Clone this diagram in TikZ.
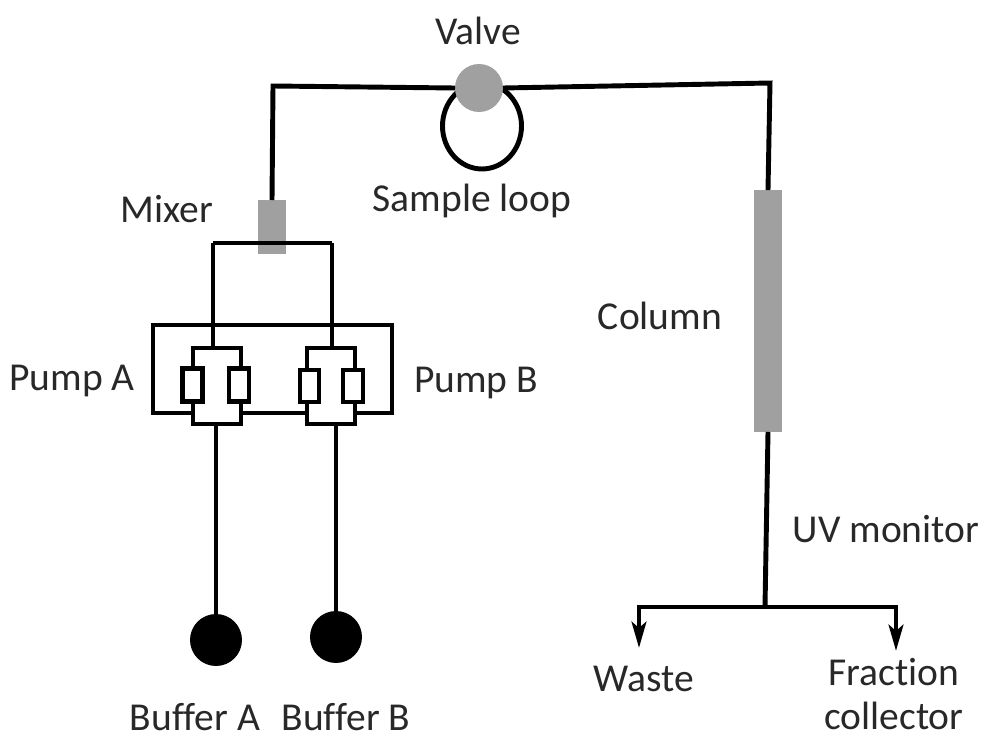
\documentclass[tikz,border=0pt]{standalone}
\usepackage{fontspec}
\setmainfont[Ligatures=NoCommon]{Carlito}
\usetikzlibrary{arrows.meta, shapes.geometric}
\definecolor{partgray}{RGB}{160,160,160}
\definecolor{labelgray}{RGB}{40,40,40}

\begin{document}
\begin{tikzpicture}[x=0.02cm, y=-0.02cm,
    pipe/.style={line width=2.8pt, black},
    flowarrow/.style={pipe, -{Stealth[length=0.52cm, width=0.29cm, inset=0.12cm]}},
    housing/.style={rectangle, draw=black, line width=2.8pt, fill=white, inner sep=0pt, outer sep=0pt},
    part/.style={rectangle, fill=partgray, inner sep=0pt, outer sep=0pt},
    buffer/.style={circle, fill=black, inner sep=0pt, outer sep=0pt, minimum size=1.04cm},
    lbl/.style={font=\fontsize{22.5}{25.5}\selectfont, text=labelgray, align=center, inner sep=0pt}
]
    \useasboundingbox (0,0) rectangle (984,740);

    % pump housing and the two pumps
    \node[housing, minimum width=4.78cm, minimum height=1.76cm] (housing) at (272.5,369) {};
    \node[housing, minimum width=0.96cm, minimum height=1.52cm] (pumpA) at (217,386) {};
    \node[housing, minimum width=0.96cm, minimum height=1.52cm] (pumpB) at (331,386) {};
    \node[housing, minimum width=0.40cm, minimum height=0.66cm] (pumpAl) at (192.5,385) {};
    \node[housing, minimum width=0.40cm, minimum height=0.66cm] (pumpAr) at (239,385) {};
    \node[housing, minimum width=0.38cm, minimum height=0.64cm] (pumpBl) at (309.5,386) {};
    \node[housing, minimum width=0.40cm, minimum height=0.64cm] (pumpBr) at (353,386) {};

    \node[part, minimum width=0.56cm, minimum height=1.08cm] (mixer) at (272,227) {};
    \node[part, minimum width=0.56cm, minimum height=4.84cm] (column) at (768,311) {};
    \node[buffer] (bufferA) at (216,640) {};
    \node[buffer] (bufferB) at (336,637) {};

    % sample loop goes under the valve
    \node[ellipse, draw=black, line width=2.8pt, inner sep=0pt, outer sep=0pt,
        minimum width=1.58cm, minimum height=1.72cm] (loop) at (482,126) {};
    \node[circle, fill=partgray, inner sep=0pt, outer sep=0pt, minimum size=0.96cm] (valve) at (479,88) {};

    \coordinate (teeA) at (213,243);
    \coordinate (teeB) at (332,243);
    \coordinate (split) at (765,607);
    \coordinate (wasteEnd) at (639,648);
    \coordinate (fractionEnd) at (896,651);

    \draw[pipe] (teeA) -- (teeB);
    \draw[pipe] (teeA) -- (teeA |- pumpA.north);
    \draw[pipe] (teeB) -- (teeB |- pumpB.north);
    \draw[pipe] (bufferA) -- (bufferA |- pumpA.south);
    \draw[pipe] (bufferB) -- (bufferB |- pumpB.south);
    \draw[pipe] (mixer.north) -- (273,86) -- (valve.west);
    \draw[pipe] (valve.east) -- (770,83) -- (column.north);
    \draw[pipe] (column.south) -- (split);
    \draw[flowarrow] (split) -- (639,607) -- (wasteEnd);
    \draw[flowarrow] (split) -- (896,607) -- (fractionEnd);

    \node[lbl] (valvelbl) at (478,31) {Valve};
    \node[lbl] (mixerlbl) at (167,209) {Mixer};
    \node[lbl] (looplbl) at (472,201) {Sample loop};
    \node[lbl] (columnlbl) at (660,316) {Column};
    \node[lbl] (pumpAlbl) at (72,381) {Pump A};
    \node[lbl] (pumpBlbl) at (476,383) {Pump B};
    \node[lbl] (uvlbl) at (886,529) {UV monitor};
    \node[lbl] (wastelbl) at (644,679) {Waste};
    \node[lbl] (fractionlbl) at (894,694) {Fraction\\collector};
    \node[lbl] (bufferAlbl) at (195,717) {Buffer A};
    \node[lbl] (bufferBlbl) at (346,717) {Buffer B};
\end{tikzpicture}
\end{document}
